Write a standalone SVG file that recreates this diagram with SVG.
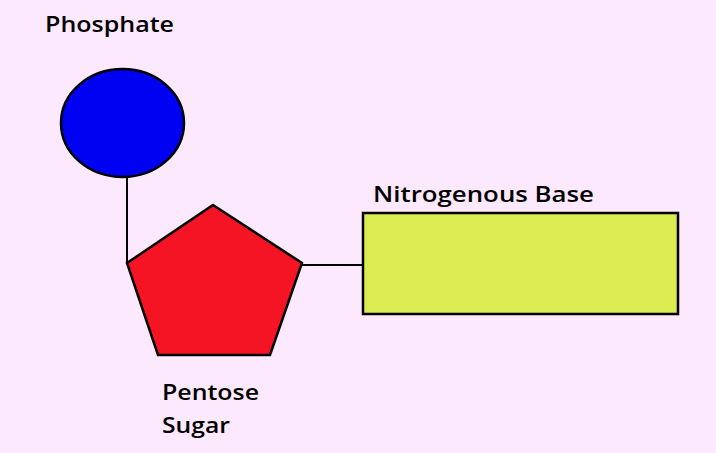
<svg xmlns="http://www.w3.org/2000/svg" width="716" height="453" viewBox="0 0 716 453">
<style>
.lbl{font-family:"Open Sans","Liberation Sans",sans-serif;font-size:22px;font-weight:600;fill:#000;}
.shape{stroke:#000;stroke-width:2.5;}
.conn{stroke:#000;stroke-width:2;fill:none;}
</style>
<rect x="0" y="0" width="716" height="453" fill="#FDE9FD"/>
<g id="connectors">
<line class="conn" x1="127" y1="177" x2="127" y2="263"/>
<line class="conn" x1="302" y1="265" x2="363" y2="265"/>
</g>
<g id="phosphate">
<ellipse class="shape" cx="122.5" cy="123" rx="61.5" ry="54" fill="#0000F2"/>
<text class="lbl" x="45" y="32" textLength="129" lengthAdjust="spacingAndGlyphs">Phosphate</text>
</g>
<g id="pentose-sugar">
<polygon class="shape" points="213,205 302,263 270,355 158,355 127,263" fill="#F51424"/>
<text class="lbl" x="162" y="400" textLength="97" lengthAdjust="spacingAndGlyphs">Pentose</text>
<text class="lbl" x="162" y="433" textLength="68" lengthAdjust="spacingAndGlyphs">Sugar</text>
</g>
<g id="nitrogenous-base">
<rect class="shape" x="363" y="213" width="315" height="101" fill="#DCEB52"/>
<text class="lbl" x="373" y="202" textLength="221" lengthAdjust="spacingAndGlyphs">Nitrogenous Base</text>
</g>
</svg>
